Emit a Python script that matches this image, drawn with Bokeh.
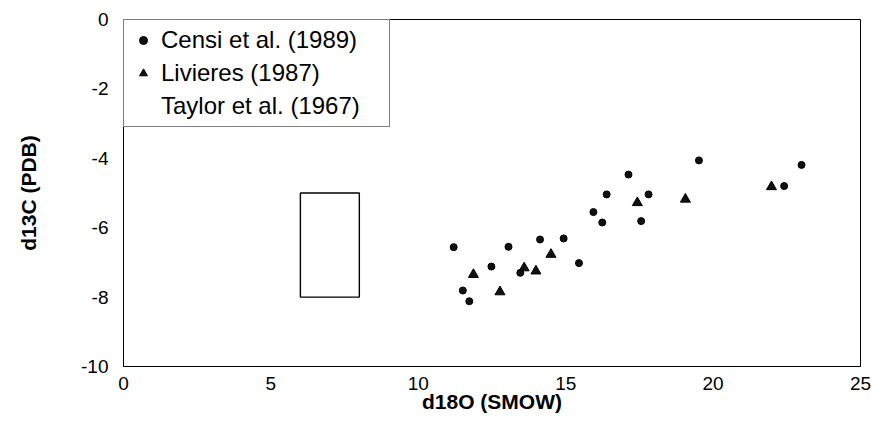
from bokeh.plotting import figure
from bokeh.models import Legend, LegendItem, FixedTicker, Range1d
from bokeh.embed import file_html
from bokeh.resources import INLINE

# Censi et al. (1989)
censi_x = [11.2, 11.51, 11.73, 12.48, 13.06, 13.46, 14.13, 14.93, 15.45, 15.94,
           16.24, 16.39, 17.13, 17.56, 17.81, 19.52, 22.41, 23.0]
censi_y = [-6.56, -7.81, -8.12, -7.12, -6.55, -7.30, -6.34, -6.31, -7.02, -5.55,
           -5.85, -5.04, -4.47, -5.81, -5.04, -4.06, -4.80, -4.19]

# Livieres (1987)
liv_x = [11.87, 12.77, 13.59, 13.99, 14.5, 17.43, 19.06, 21.98]
liv_y = [-7.35, -7.85, -7.16, -7.25, -6.77, -5.28, -5.18, -4.82]

# Taylor et al. (1967) field (box)
taylor_x = [6, 8]
taylor_y = [-8, -5]

x_ticks = [0, 5, 10, 15, 20, 25]
x_tick_labels = ["0", "5", "10", "15", "20", "25"]
y_ticks = [0, -2, -4, -6, -8, -10]
y_tick_labels = ["0", "-2", "-4", "-6", "-8", "-10"]

FONT = "Liberation Sans"

p = figure(width=872, height=447, output_backend="svg", toolbar_location=None,
           x_range=Range1d(0, 25), y_range=Range1d(-10, 0),
           min_border_left=123, min_border_right=12, min_border_top=19,
           min_border_bottom=81)
p.xgrid.visible = False
p.ygrid.visible = False
p.outline_line_color = "black"
p.outline_line_width = 1
p.background_fill_color = "white"
p.border_fill_color = "white"

p.quad(left=[taylor_x[0]], right=[taylor_x[1]], bottom=[taylor_y[0]], top=[taylor_y[1]],
       fill_color=None, line_color="black", line_width=1.4)

r_c = p.scatter(censi_x, censi_y, marker="circle", size=7,
                fill_color="#111111", line_color="black", line_width=1)
r_l = p.scatter(liv_x, liv_y, marker="triangle", size=10,
                fill_color="#111111", line_color="black", line_width=1)
r_t = p.scatter([taylor_x[0]], [taylor_y[0]], marker="square", size=1,
                fill_alpha=0, line_alpha=0)

legend = Legend(items=[
    LegendItem(label="Censi et al. (1989)", renderers=[r_c]),
    LegendItem(label="Livieres (1987)", renderers=[r_l]),
    LegendItem(label="Taylor et al. (1967)", renderers=[r_t]),
], location="top_left")
legend.margin = 0
legend.padding = 6
legend.spacing = 5
legend.glyph_width = 26
legend.glyph_height = 20
legend.label_standoff = 5
legend.label_width = 222
legend.label_text_font = FONT
legend.label_text_font_size = "24px"
legend.label_text_color = "black"
legend.border_line_color = "black"
legend.border_line_width = 1
legend.background_fill_color = "white"
legend.background_fill_alpha = 1
p.add_layout(legend)

for ax in (p.xaxis[0], p.yaxis[0]):
    ax.axis_line_color = "black"
    ax.axis_line_width = 1
    ax.major_tick_out = 0
    ax.major_tick_in = 0
    ax.minor_tick_out = 0
    ax.minor_tick_in = 0
    ax.major_label_text_font = FONT
    ax.major_label_text_font_size = "19px"
    ax.major_label_text_color = "black"
    ax.axis_label_text_font = FONT
    ax.axis_label_text_font_size = "21px"
    ax.axis_label_text_font_style = "bold"
    ax.axis_label_text_color = "black"

p.xaxis.ticker = FixedTicker(ticks=x_ticks)
p.yaxis.ticker = FixedTicker(ticks=y_ticks)
p.xaxis.major_label_overrides = {t: s for t, s in zip(x_ticks, x_tick_labels)}
p.yaxis.major_label_overrides = {t: s for t, s in zip(y_ticks, y_tick_labels)}
p.xaxis.major_label_standoff = 10
p.yaxis.major_label_standoff = 15
p.xaxis.axis_label = "d18O (SMOW)"
p.yaxis.axis_label = "d13C (PDB)"
p.xaxis.axis_label_standoff = -3
p.yaxis.axis_label_standoff = 38

open("out.html", "w").write(file_html(p, INLINE))
